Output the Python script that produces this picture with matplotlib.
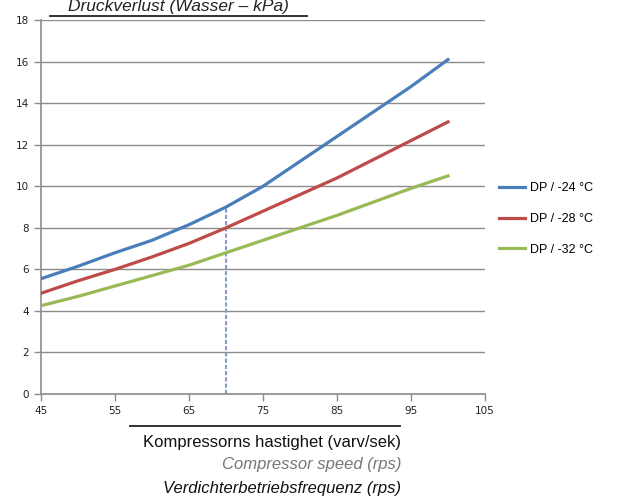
import matplotlib.pyplot as plt
from matplotlib.lines import Line2D

# compressor speed (rps)
speed = [45, 50, 55, 60, 65, 70, 75, 80, 85, 90, 95, 100]
# pressure drop, kPa
dp_24 = [5.55, 6.15, 6.8, 7.4, 8.15, 9.0, 10.0, 11.2, 12.4, 13.6, 14.8, 16.1]
dp_28 = [4.85, 5.45, 6.0, 6.6, 7.25, 8.0, 8.8, 9.6, 10.4, 11.3, 12.2, 13.1]
dp_32 = [4.25, 4.7, 5.2, 5.7, 6.2, 6.8, 7.4, 8.0, 8.6, 9.25, 9.9, 10.5]
labels = ['DP / -24 °C', 'DP / -28 °C', 'DP / -32 °C']
colors = ['#4a7ebb', '#be4b48', '#98b954']
marker_speed = 70

sans = ['Liberation Sans', 'DejaVu Sans']

fig = plt.figure(figsize=(6.24, 5.03), dpi=100)
ax = fig.add_axes([0.0657, 0.2167, 0.7115, 0.7433])

for y, lab, c in zip([dp_24, dp_28, dp_32], labels, colors):
    ax.plot(speed, y, color=c, linewidth=2.3, label=lab, zorder=3)

# dashed marker line at 70 rps up to the -24 curve
ax.vlines(marker_speed, 0, dp_24[speed.index(marker_speed)], colors='#8a9ac8',
          linestyles=(0, (2, 1)), linewidth=1.5, zorder=2)

ax.set_xlim(45, 105)
ax.set_ylim(0, 18)
ax.set_xticks(range(45, 106, 10))
ax.set_yticks(range(0, 19, 2))
ax.yaxis.grid(True, color='#8c8c8c', linewidth=1)
ax.set_axisbelow(True)
for s in ['top', 'right']:
    ax.spines[s].set_visible(False)
for s in ['left', 'bottom']:
    ax.spines[s].set_color('#8c8c8c')
    ax.spines[s].set_linewidth(1.2)
ax.tick_params(axis='both', labelsize=7.5, colors='#8c8c8c', labelcolor='#222222',
               length=5, width=1)

leg = ax.legend(loc='upper left', bbox_to_anchor=(1.02, 0.58), frameon=False,
                prop={'family': sans, 'size': 9}, handlelength=2.1,
                labelspacing=1.5, handletextpad=0.4, borderaxespad=0)

# title with underline
fig.text(178 / 624, 1 - 6 / 503, 'Druckverlust (Wasser – kPa)', style='italic',
         fontsize=12.5, family=sans, ha='center', va='center', color='#222222')
fig.add_artist(Line2D([50 / 624, 307 / 624], [1 - 16 / 503, 1 - 16 / 503],
                      color='#222222', linewidth=1.3))

# x-axis labels with rule
fig.add_artist(Line2D([130 / 624, 400 / 624], [1 - 426 / 503, 1 - 426 / 503],
                      color='#222222', linewidth=1.3))
fig.text(401 / 624, 1 - 442 / 503, 'Kompressorns hastighet (varv/sek)', fontsize=12,
         family=sans, ha='right', va='center', color='#111111')
fig.text(401 / 624, 1 - 465 / 503, 'Compressor speed (rps)', fontsize=12, family=sans,
         style='italic', ha='right', va='center', color='#777777')
fig.text(401 / 624, 1 - 488 / 503, 'Verdichterbetriebsfrequenz (rps)', fontsize=12,
         family=sans, style='italic', ha='right', va='center', color='#111111')

fig.savefig('out.png', dpi=100)
